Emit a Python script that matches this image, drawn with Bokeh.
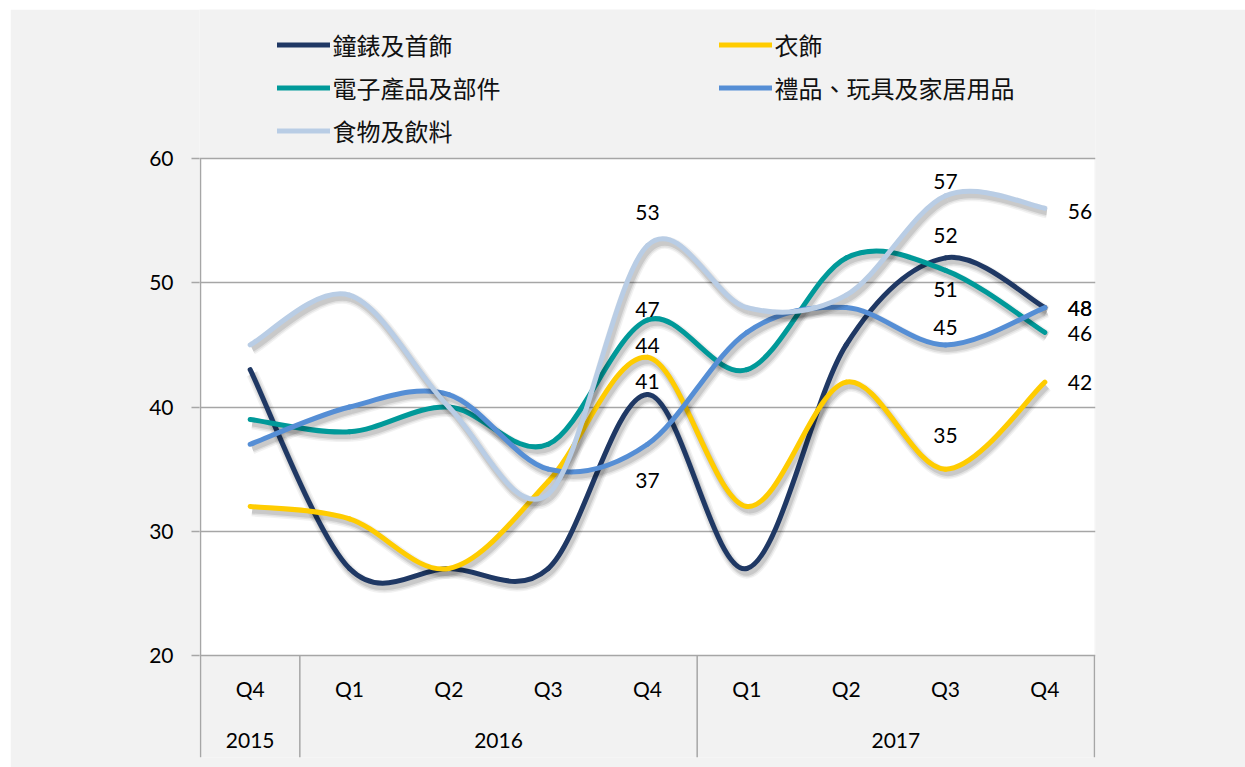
from bokeh.plotting import figure
from bokeh.models import Range1d, FixedTicker, Legend, LegendItem, ColumnDataSource
from bokeh.core.properties import value
from bokeh.embed import file_html
from bokeh.resources import INLINE

# ---------------- data ----------------
quarters = ["Q4", "Q1", "Q2", "Q3", "Q4", "Q1", "Q2", "Q3", "Q4"]
years = ["2015", "2016", "2017"]
year_counts = [1, 4, 4]

series_names = ["鐘錶及首飾", "衣飾", "電子產品及部件", "禮品、玩具及家居用品", "食物及飲料"]
watches = [43, 27, 27, 27, 41, 27, 45, 52, 48]
clothing = [32, 31, 27, 34, 44, 32, 42, 35, 42]
electronics = [39, 38, 40, 37, 47, 43, 52, 51, 46]
gifts = [37, 40, 41, 35, 37, 46, 48, 45, 48]
food = [45, 49, 40, 33, 53, 48, 49, 57, 56]
y_ticks = [20, 30, 40, 50, 60]
labelled_idx = [4, 7, 8]

# ---------------- style ----------------
colors = ["#1F3864", "#FFCC00", "#009999", "#558ED5", "#B9CDE5"]
label_dy = [[-13, -22, 1], [-12, -34, 0], [-11, 19, 1], [36, -17, 1], [-33, -14, 3]]
NUM_FONT = "Lato"
CJK_FONT = "Noto Sans CJK TC"
GRID = "#A6A6A6"
BG = "#F2F2F2"

W, H = 1235, 758
FL, FR, FT, FB = 189, 1085, 0, 748          # frame edges in figure px
PLOT_L, PLOT_T = 190, 149                    # white plot area top-left in figure px
n = len(quarters)
px_x = 894.0 / n
px_y = 124.25 / 10.0
x_start = -(PLOT_L - FL) / px_x
x_end = x_start + (FR - FL) / px_x
y_end = y_ticks[-1] + (PLOT_T - FT) / px_y
y_start = y_end - (FB - FT) / px_y

p = figure(width=W, height=H, output_backend="svg", toolbar_location=None,
           x_axis_location=None, x_range=Range1d(x_start, x_end), y_range=Range1d(y_start, y_end),
           min_border_left=FL, min_border_right=W - FR, min_border_top=FT, min_border_bottom=H - FB)
p.margin = (9, 0, 0, 10)
p.background_fill_color = BG
p.border_fill_color = BG
p.outline_line_color = None
for g in p.grid:
    if g.dimension == 0:
        g.visible = False

p.quad(left=[0], right=[n], bottom=[y_ticks[0]], top=[y_ticks[-1]], fill_color="white",
       line_color=None, level="image")

ax = p.yaxis[0]
ax.ticker = FixedTicker(ticks=y_ticks)
ax.axis_line_color = None
ax.major_tick_line_color = GRID
ax.major_tick_line_width = 1.5
ax.major_tick_out = 8
ax.major_tick_in = 0
ax.minor_tick_line_color = None
ax.major_label_standoff = 18
ax.major_label_text_font = NUM_FONT
ax.major_label_text_font_size = "21px"
ax.major_label_text_color = "#000000"
p.ygrid.ticker = FixedTicker(ticks=y_ticks)
p.ygrid.grid_line_color = GRID
p.ygrid.grid_line_width = 1.5

# vertical axis line and category separators
bounds = [0]
for c in year_counts:
    bounds.append(bounds[-1] + c)
p.segment(x0=[0], y0=[y_ticks[-1]], x1=[0], y1=[y_start], line_color=GRID, line_width=1.5)
sep_x = bounds[1:]
p.segment(x0=sep_x, y0=[y_ticks[0]] * len(sep_x), x1=sep_x, y1=[y_start] * len(sep_x),
          line_color=GRID, line_width=1.5)
xc = [i + 0.5 for i in range(n)]
p.text(x=xc, y=[y_ticks[0]] * n, text=quarters, y_offset=33, text_align="center",
       text_baseline="middle", text_font=value(NUM_FONT), text_font_size="21px", text_color="#000000")
yc = [(bounds[i] + bounds[i + 1]) / 2 for i in range(len(years))]
p.text(x=yc, y=[y_ticks[0]] * len(years), text=years, y_offset=85, text_align="center",
       text_baseline="middle", text_font=value(NUM_FONT), text_font_size="21px", text_color="#000000")


def smooth(vals):
    pts = [(i + 0.5, v) for i, v in enumerate(vals)]
    m = len(pts)
    g = lambda k: pts[min(max(k, 0), m - 1)]
    out = {k: [] for k in ["x0", "y0", "x1", "y1", "cx0", "cy0", "cx1", "cy1"]}
    for i in range(m - 1):
        p0, p1, p2, p3 = g(i - 1), g(i), g(i + 1), g(i + 2)
        out["x0"].append(p1[0]); out["y0"].append(p1[1])
        out["x1"].append(p2[0]); out["y1"].append(p2[1])
        out["cx0"].append(p1[0] + (p2[0] - p0[0]) / 6.0)
        out["cy0"].append(p1[1] + (p2[1] - p0[1]) / 6.0)
        out["cx1"].append(p2[0] - (p3[0] - p1[0]) / 6.0)
        out["cy1"].append(p2[1] - (p3[1] - p1[1]) / 6.0)
    return out


def shifted(d, dxp, dyp):
    dx, dy = dxp / px_x, -dyp / px_y
    return {k: [v + (dx if k.startswith(("x", "cx")) else dy) for v in vals] for k, vals in d.items()}


all_series = [watches, clothing, electronics, gifts, food]
items = []
for s, (vals, col, name) in enumerate(zip(all_series, colors, series_names)):
    d = smooth(vals)
    for w, a in [(12, 0.05), (9, 0.07), (6, 0.10)]:
        p.bezier(source=ColumnDataSource(shifted(d, 2, 4)), x0="x0", y0="y0", x1="x1", y1="y1",
                 cx0="cx0", cy0="cy0", cx1="cx1", cy1="cy1", line_color="#000000",
                 line_alpha=a, line_width=w, line_cap="butt")
    r = p.bezier(source=ColumnDataSource(d), x0="x0", y0="y0", x1="x1", y1="y1",
                 cx0="cx0", cy0="cy0", cx1="cx1", cy1="cy1", line_color=col,
                 line_width=5, line_cap="round")
    items.append(LegendItem(label=name, renderers=[r]))

for s, vals in enumerate(all_series):
    cx, cy, ct, cdy = [], [], [], []
    rx, ry, rt, rdy = [], [], [], []
    for j, idx in enumerate(labelled_idx):
        if idx == n - 1:
            rx.append(idx + 0.5); ry.append(vals[idx]); rt.append(str(vals[idx])); rdy.append(label_dy[s][j])
        else:
            cx.append(idx + 0.5); cy.append(vals[idx]); ct.append(str(vals[idx])); cdy.append(label_dy[s][j])
    p.text(x=cx, y=cy, text=ct, y_offset=cdy, text_align="center", text_baseline="middle",
           text_font=value(NUM_FONT), text_font_size="21px", text_color="#000000")
    p.text(x=rx, y=ry, text=rt, y_offset=rdy, x_offset=23, text_align="left", text_baseline="middle",
           text_font=value(NUM_FONT), text_font_size="21px", text_color="#000000")

legend = Legend(items=items, orientation="horizontal", ncols=2, location=(77.5, 605.2),
                glyph_width=53, glyph_height=43, label_height=43, label_width=386,
                label_standoff=3, spacing=0, padding=0, margin=0,
                border_line_alpha=0, background_fill_alpha=0,
                label_text_font=CJK_FONT, label_text_font_size="24px", label_text_color="#111111")
p.add_layout(legend, "center")

open("out.html", "w").write(file_html(p, INLINE))
